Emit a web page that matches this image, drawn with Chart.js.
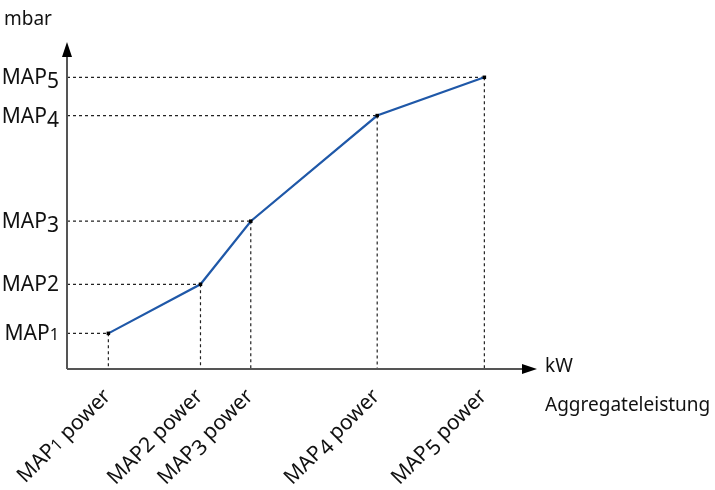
<!DOCTYPE html>
<html>
<head>
<meta charset="utf-8">
<script src="https://cdn.jsdelivr.net/npm/chart.js@4/dist/chart.umd.min.js"></script>
<style>
  html, body { margin: 0; padding: 0; background: #fff; }
  #wrap { width: 715px; height: 490px; }
</style>
</head>
<body>
<div id="wrap"><canvas id="mycanvas"></canvas></div>
<script>
// operating points (relative units)
var categories = ['MAP1', 'MAP2', 'MAP3', 'MAP4', 'MAP5'];
var powerValues = [8.8, 28.4, 39.1, 66.0, 88.8];
var pressureValues = [10.9, 25.9, 45.2, 77.5, 89.2];
var xTickLabels = ['MAP1 power', 'MAP2 power', 'MAP3 power', 'MAP4 power', 'MAP5 power'];
var yTickLabels = ['MAP1', 'MAP2', 'MAP3', 'MAP4', 'MAP5'];
var yAxisTitle = 'mbar';
var xAxisUnit = 'kW';
var xAxisTitle = 'Aggregateleistung';

var FONT = '"Noto Sans", "Open Sans", sans-serif';
var SIZE = 21;

// draws "MAPn ..." on an alphabetic baseline, digit set like an old-style figure
function drawMapText(ctx, text, x, y, alignRight) {
  var m = text.match(/^(MAP)(\d)(.*)$/);
  var parts = m ? [m[1], m[2], m[3]] : [text, '', ''];
  var d = parts[1];
  var dScale = d === '1' ? 0.78 : 1;
  var dShift = (d === '3' || d === '4' || d === '5') ? 4 : 0;
  ctx.textBaseline = 'alphabetic';
  ctx.textAlign = 'left';
  ctx.font = SIZE + 'px ' + FONT;
  var w0 = ctx.measureText(parts[0]).width;
  var w2 = ctx.measureText(parts[2]).width;
  ctx.font = (SIZE * dScale) + 'px ' + FONT;
  var w1 = ctx.measureText(d).width;
  var total = w0 + w1 + w2;
  var sx = alignRight ? x - total : x;
  ctx.font = SIZE + 'px ' + FONT;
  ctx.fillText(parts[0], sx, y);
  ctx.font = (SIZE * dScale) + 'px ' + FONT;
  ctx.fillText(d, sx + w0, y + dShift);
  ctx.font = SIZE + 'px ' + FONT;
  ctx.fillText(parts[2], sx + w0 + w1, y);
}

var diagram = {
  id: 'diagram',
  beforeDatasetsDraw: function(chart) {
    var ctx = chart.ctx;
    var xs = chart.scales.x, ys = chart.scales.y;
    var x0 = xs.getPixelForValue(0), y0 = ys.getPixelForValue(0);
    ctx.save();
    ctx.strokeStyle = '#222';
    ctx.lineWidth = 1.2;
    ctx.setLineDash([3, 3]);
    for (var i = 0; i < powerValues.length; i++) {
      var px = xs.getPixelForValue(powerValues[i]);
      var py = ys.getPixelForValue(pressureValues[i]);
      ctx.beginPath();
      ctx.moveTo(x0, py); ctx.lineTo(px, py);
      ctx.moveTo(px, py); ctx.lineTo(px, y0);
      ctx.stroke();
    }
    ctx.restore();
  },
  afterDraw: function(chart) {
    var ctx = chart.ctx;
    var xs = chart.scales.x, ys = chart.scales.y;
    var x0 = xs.getPixelForValue(0), y0 = ys.getPixelForValue(0);
    var xEnd = xs.getPixelForValue(xs.max), yEnd = ys.getPixelForValue(ys.max);
    ctx.save();
    // axes
    ctx.strokeStyle = '#555';
    ctx.lineWidth = 2;
    ctx.beginPath();
    ctx.moveTo(x0, y0); ctx.lineTo(x0, yEnd + 10);
    ctx.moveTo(x0, y0); ctx.lineTo(xEnd - 10, y0);
    ctx.stroke();
    ctx.fillStyle = '#000';
    ctx.beginPath();
    ctx.moveTo(x0, yEnd); ctx.lineTo(x0 - 5, yEnd + 15); ctx.lineTo(x0 + 5, yEnd + 15);
    ctx.closePath(); ctx.fill();
    ctx.beginPath();
    ctx.moveTo(xEnd, y0); ctx.lineTo(xEnd - 15, y0 - 5); ctx.lineTo(xEnd - 15, y0 + 5);
    ctx.closePath(); ctx.fill();

    ctx.fillStyle = '#111';
    // y tick labels
    for (var i = 0; i < yTickLabels.length; i++) {
      drawMapText(ctx, yTickLabels[i], x0 - 8, ys.getPixelForValue(pressureValues[i]) + 7, true);
    }
    // x tick labels, rotated
    for (var j = 0; j < xTickLabels.length; j++) {
      ctx.save();
      ctx.translate(xs.getPixelForValue(powerValues[j]) - 8, y0 + 17);
      ctx.rotate(-Math.PI / 4);
      drawMapText(ctx, xTickLabels[j], 0, 16, true);
      ctx.restore();
    }
    // axis titles
    ctx.textBaseline = 'alphabetic';
    ctx.textAlign = 'left';
    ctx.font = '19px ' + FONT;
    ctx.fillText(yAxisTitle, 4, 25);
    ctx.fillText(xAxisUnit, 545, 372);
    ctx.fillText(xAxisTitle, 545, 411);
    ctx.restore();
  }
};

var points = [];
for (var i in powerValues) {
  points.push({ x: powerValues[i], y: pressureValues[i] });
}

var ctx = document.getElementById('mycanvas');
var graph = new Chart(ctx, {
  type: 'line',
  data: {
    labels: categories,
    datasets: [{
      label: 'MAP',
      data: points,
      borderColor: '#1f58a8',
      borderWidth: 2.2,
      pointStyle: 'rect',
      pointRadius: 2.5,
      pointBackgroundColor: '#000',
      pointBorderColor: '#000',
      pointBorderWidth: 0,
      tension: 0,
      clip: false
    }]
  },
  options: {
    responsive: true,
    maintainAspectRatio: false,
    animation: false,
    layout: { padding: { left: 67, top: 42, right: 178, bottom: 121 } },
    plugins: { legend: { display: false }, tooltip: { enabled: false } },
    scales: {
      x: { type: 'linear', min: 0, max: 100, display: false },
      y: { type: 'linear', min: 0, max: 100, display: false }
    }
  },
  plugins: [diagram]
});
</script>
</body>
</html>
